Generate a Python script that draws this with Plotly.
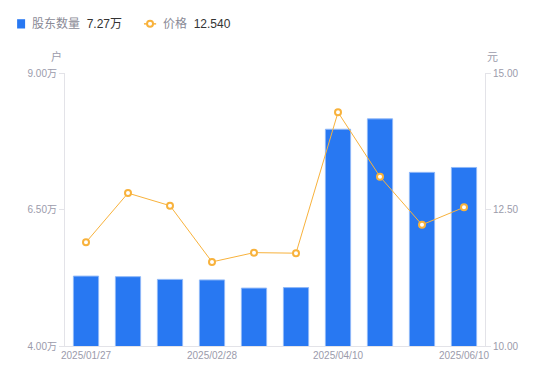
import plotly.graph_objects as go

dates = ["2025/01/27", "2025/02/10", "2025/02/20", "2025/02/28", "2025/03/10",
         "2025/03/20", "2025/04/10", "2025/04/30", "2025/05/20", "2025/06/10"]
holders = [5.28, 5.27, 5.22, 5.21, 5.06, 5.07, 7.97, 8.16, 7.18, 7.27]  # 万户
prices = [11.90, 12.80, 12.57, 11.54, 11.71, 11.70, 14.28, 13.10, 12.22, 12.54]
x_tick_labels = ["2025/01/27", "2025/02/28", "2025/04/10", "2025/06/10"]
left_ticks = [4.0, 6.5, 9.0]
left_tick_text = ["4.00万", "6.50万", "9.00万"]
right_ticks = [10.0, 12.5, 15.0]
right_tick_text = ["10.00", "12.50", "15.00"]

BLUE = "#2878f2"
ORANGE = "#f8b23c"
GREY = "#9b9bab"
AXIS = "#e3e3e8"
FONT = "Liberation Sans, Noto Sans CJK SC"

fig = go.Figure()
fig.add_trace(go.Bar(
    x=dates, y=holders, name="股东数量", yaxis="y",
    marker=dict(color=BLUE, line=dict(color="#8fb8f8", width=1)),
    width=0.6,
))
fig.add_trace(go.Scatter(
    x=dates, y=prices, name="价格", yaxis="y2", mode="lines+markers",
    line=dict(color=ORANGE, width=1),
    marker=dict(symbol="circle", size=6, color="white", line=dict(color=ORANGE, width=2)),
))

fig.update_layout(
    width=542, height=373,
    margin=dict(l=57, r=65, t=65, b=35),
    plot_bgcolor="white", paper_bgcolor="white",
    font=dict(family=FONT, size=11, color=GREY),
    showlegend=False,
    xaxis=dict(
        type="category", tickmode="array", tickvals=x_tick_labels, ticktext=x_tick_labels,
        showline=True, linecolor=AXIS, linewidth=1, ticks="", showgrid=False,
        tickfont=dict(size=10, color=GREY), range=[-0.5, 9.5],
    ),
    yaxis=dict(
        range=[4.0, 9.0], tickmode="array", tickvals=left_ticks, ticktext=left_tick_text,
        showline=True, linecolor=AXIS, linewidth=1, ticks="outside", ticklen=5, tickcolor=AXIS,
        showgrid=False, zeroline=False, tickfont=dict(size=10, color=GREY),
    ),
    yaxis2=dict(
        range=[10.0, 15.0], overlaying="y", side="right", tickmode="array",
        tickvals=right_ticks, ticktext=right_tick_text,
        showline=True, linecolor=AXIS, linewidth=1, ticks="outside", ticklen=5, tickcolor=AXIS,
        showgrid=False, zeroline=False, tickfont=dict(size=10, color=GREY),
    ),
)

LEG_Y = 1.18
# custom legend
fig.add_shape(type="rect", xref="paper", yref="paper", x0=-0.114, x1=-0.095,
              y0=LEG_Y - 0.017, y1=LEG_Y + 0.017, fillcolor=BLUE, line=dict(width=0))
fig.add_annotation(xref="paper", yref="paper", x=-0.083, y=LEG_Y, xanchor="left", yanchor="middle",
                   text=f"<span style='color:#8a8a96'>股东数量</span>  <span style='color:#333'>{holders[-1]:.2f}万</span>",
                   showarrow=False, font=dict(size=12, family=FONT))
fig.add_shape(type="line", xref="paper", yref="paper", x0=0.188, x1=0.217,
              y0=LEG_Y, y1=LEG_Y, line=dict(color=ORANGE, width=1.5))
cx, rx, ry = 0.2025, 3 / 420, 3 / 273
fig.add_shape(type="circle", xref="paper", yref="paper", x0=cx - rx, x1=cx + rx,
              y0=LEG_Y - ry, y1=LEG_Y + ry, fillcolor="white", line=dict(color=ORANGE, width=2))
fig.add_annotation(xref="paper", yref="paper", x=0.229, y=LEG_Y, xanchor="left", yanchor="middle",
                   text=f"<span style='color:#8a8a96'>价格</span>  <span style='color:#333'>{prices[-1]:.3f}</span>",
                   showarrow=False, font=dict(size=12, family=FONT))

# unit labels
fig.add_annotation(xref="paper", yref="paper", x=-0.003, y=1.059, xanchor="right", yanchor="middle",
                   text="户", showarrow=False, font=dict(size=11, color=GREY, family=FONT))
fig.add_annotation(xref="paper", yref="paper", x=1.0, y=1.059, xanchor="left", yanchor="middle",
                   text="元", showarrow=False, font=dict(size=11, color=GREY, family=FONT))

fig.write_html("out.html")
